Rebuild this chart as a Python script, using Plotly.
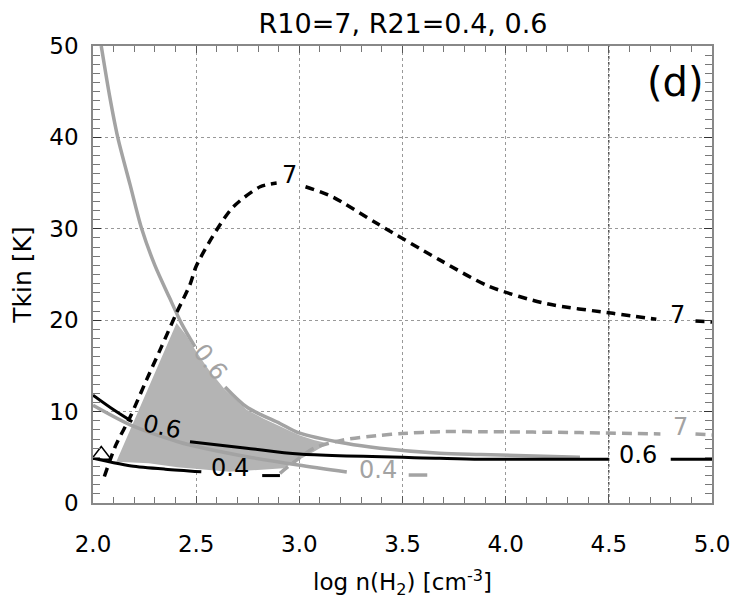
import plotly.graph_objects as go

# values: log n(H2) vs Tkin
# R10 = 7, black dashed (None = gap at contour label)
r10_blk_x = [2.055, 2.11, 2.18, 2.26, 2.33, 2.405, 2.47, 2.50, 2.60, 2.68, 2.81, 2.89, None,
             3.03, 3.16, 3.375, 3.68, 3.92, 4.20, 4.52, 4.73, None, 4.92, 5.0]
r10_blk_y = [2.9, 6.3, 9.4, 13.5, 17.0, 20.8, 23.9, 25.9, 29.9, 32.4, 34.6, 35.0, None,
             34.6, 33.5, 30.6, 26.6, 23.7, 21.8, 20.75, 20.1, None, 19.9, 19.8]

# R10 = 7, grey dashed
r10_gry_x = [2.906, 2.987, 3.07, 3.213, 3.39, 3.50, 3.68, 3.88, 4.36, 4.75, None, 4.92, 5.0]
r10_gry_y = [3.25, 4.7, 6.0, 6.9, 7.4, 7.6, 7.8, 7.8, 7.7, 7.55, None, 7.55, 7.45]

# R21 = 0.6, black solid
r21_06_blk_x = [2.0, 2.10, 2.19, None, 2.47, 2.745, 3.0, 3.68, 3.88, 4.50, None, 4.80, 5.0]
r21_06_blk_y = [11.8, 10.2, 8.9, None, 6.7, 6.0, 5.35, 4.9, 4.8, 4.8, None, 4.8, 4.8]

# R21 = 0.4, black solid
r21_04_blk_x = [2.0, 2.10, 2.186, 2.35, 2.525, None, 2.82, 2.906]
r21_04_blk_y = [4.9, 4.4, 4.05, 3.7, 3.42, None, 3.0, 3.0]

# R21 = 0.6, grey solid
r21_06_gry_x = [2.04, 2.08, 2.12, 2.18, 2.236, 2.30, 2.37, 2.43, 2.494, None,
                2.64, 2.745, 2.906, 2.994, 3.23, 3.39, 3.68, 3.88, 4.36]
r21_06_gry_y = [50.0, 44.6, 40.0, 34.8, 30.0, 26.0, 22.5, 19.6, 17.1, None,
                12.7, 10.5, 8.7, 7.7, 6.5, 6.0, 5.45, 5.3, 5.0]

# R21 = 0.4, grey solid
r21_04_gry_x = [2.0, 2.195, 2.412, 2.47, 2.745, 2.995, 3.23, None, 3.53, 3.62]
r21_04_gry_y = [10.7, 8.4, 6.7, 6.35, 5.07, 4.16, 3.4, None, 3.06, 3.06]

# allowed region (shaded)
region_x = [2.113, 2.405, 2.45, 2.494, 2.56, 2.64, 2.745, 2.83, 2.906, 3.0, 3.07, 3.14,
            3.07, 2.987, 2.922, 2.66, 2.41, 2.27, 2.113]
region_y = [4.5, 19.7, 18.4, 16.8, 14.6, 12.4, 10.2, 9.2, 8.4, 7.4, 6.9, 6.5,
            5.6, 4.6, 3.8, 3.42, 3.9, 4.35, 4.5]

# observed point
obs_x = [2.04]
obs_y = [5.25]

# contour labels
lab_x = [2.95, 4.835, 4.845, 2.335, 4.64, 2.664, 3.38, 2.567]
lab_y = [35.9, 20.6, 8.3, 8.3, 5.3, 3.8, 3.6, 15.4]
lab_text = ["7", "7", "7", "0.6", "0.6", "0.4", "0.4", "0.6"]
lab_gray = [False, False, True, False, False, False, True, True]
lab_angle = [0, 0, 0, 12, 0, 0, 0, 52]

GRAY = "#a3a3a3"
FONT = "DejaVu Sans"

fig = go.Figure()

fig.add_trace(go.Scatter(x=region_x, y=region_y, mode="lines", fill="toself",
                         fillcolor="#b4b4b4", line=dict(width=0), hoverinfo="skip"))


def curve(x, y, color, width, dash=None):
    fig.add_trace(go.Scatter(x=x, y=y, mode="lines",
                             line=dict(color=color, width=width, dash=dash,
                                       shape="spline", smoothing=0.8)))


curve(r21_06_gry_x, r21_06_gry_y, GRAY, 3.5)
curve(r21_04_gry_x, r21_04_gry_y, GRAY, 3.5)
curve(r10_gry_x, r10_gry_y, GRAY, 3.5, "10px,6px")
curve(r21_06_blk_x, r21_06_blk_y, "black", 3)
curve(r21_04_blk_x, r21_04_blk_y, "black", 3)
curve(r10_blk_x, r10_blk_y, "black", 3.5, "9px,6px")

fig.add_trace(go.Scatter(x=obs_x, y=obs_y, mode="markers",
                         marker=dict(symbol="triangle-up-open", size=17,
                                     color="black", line=dict(width=1.5))))

for x, y, t, g, a in zip(lab_x, lab_y, lab_text, lab_gray, lab_angle):
    fig.add_annotation(x=x, y=y, text=t, showarrow=False, textangle=a,
                       font=dict(family=FONT, size=24, color=GRAY if g else "black"))

fig.add_annotation(x=0.99, y=0.921, xref="paper", yref="paper", text="(d)",
                   showarrow=False, xanchor="right", yanchor="middle",
                   font=dict(family=FONT, size=40, color="black"))

# the 4.5 grid line is drawn darker in the original
fig.add_vline(x=4.5, line=dict(color="black", width=1, dash="dot"), layer="below")

fig.update_xaxes(range=[2.0, 5.0], dtick=0.5, tickformat=".1f", automargin=False,
                 ticks="inside", ticklen=7, tickcolor="#555", mirror="ticks",
                 showline=True, linecolor="#888", linewidth=1.5,
                 minor=dict(dtick=0.1, ticks="inside", ticklen=6, tickcolor="#777",
                            showgrid=False),
                 showgrid=True, gridcolor="#999", griddash="dot", gridwidth=1,
                 zeroline=False, ticklabelstandoff=20,
                 tickfont=dict(family=FONT, size=23, color="black"),
                 title=dict(text="log n(H<sub>2</sub>) [cm<sup>-3</sup>]", standoff=18,
                            font=dict(family=FONT, size=23, color="black")))
fig.update_yaxes(range=[0, 50], dtick=10, automargin=False,
                 ticks="inside", ticklen=8, tickcolor="#333", mirror="ticks",
                 showline=True, linecolor="#888", linewidth=1.5,
                 minor=dict(dtick=1, ticks="inside", ticklen=7, tickcolor="#777",
                            showgrid=False),
                 showgrid=True, gridcolor="#999", griddash="dot", gridwidth=1,
                 zeroline=False, ticklabelstandoff=8,
                 tickfont=dict(family=FONT, size=23, color="black"),
                 title=dict(text="Tkin [K]", standoff=14,
                            font=dict(family=FONT, size=25, color="black")))

# the page body adds an 8px offset, so the figure is drawn 8px smaller
fig.update_layout(
    width=739, height=592,
    margin=dict(l=85, r=35, t=38, b=97),
    plot_bgcolor="white", paper_bgcolor="white",
    showlegend=False,
    title=dict(text="R10=7, R21=0.4, 0.6", x=0.5345, xanchor="center",
               y=0.99, yanchor="top", yref="container", pad=dict(t=0),
               font=dict(family=FONT, size=27, color="black")),
)

fig.write_html("out.html")
